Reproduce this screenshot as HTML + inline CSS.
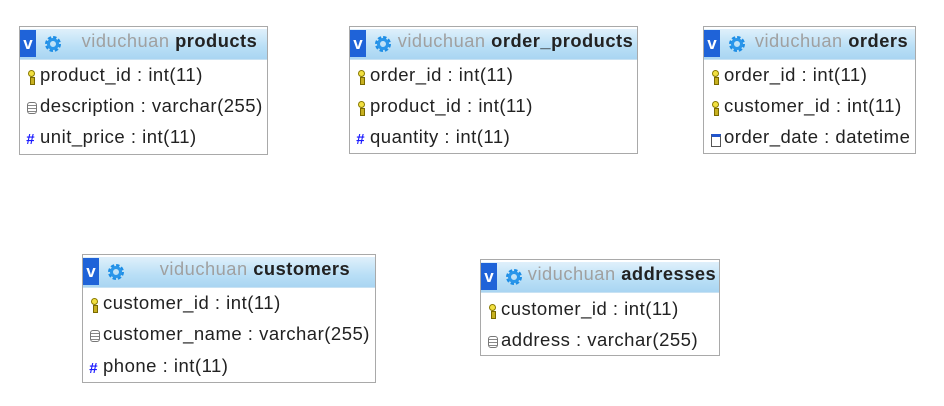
<!DOCTYPE html>
<html><head><meta charset="utf-8"><style>
body{margin:0;width:944px;height:406px;background:#fff;position:relative;overflow:hidden;font-family:"Liberation Sans",Arial,sans-serif;}
.t{position:absolute;border:1px solid #a9a9a9;background:#fff;box-sizing:border-box;}
.h{position:absolute;left:0;right:0;top:2px;height:30px;background:linear-gradient(#dff0fb,#b9dff6 60%,#a9d5f2);border-bottom:1px solid #c8e2f3;}
.v{position:absolute;left:0;top:3px;width:16px;height:27px;background:#1f63d8;color:#fff;font-weight:bold;font-size:17px;line-height:28px;text-align:center;}
.g{position:absolute;left:24px;top:8px;width:18px;height:18px;}
.ti{position:absolute;left:52px;right:0;top:3px;text-align:center;font-size:18.3px;letter-spacing:0.5px;white-space:nowrap;}
.ti .a{color:#a0a0a0}.ti b{color:#222}
.r{position:absolute;left:0;font-size:18.5px;letter-spacing:0.5px;color:#222;white-space:nowrap;line-height:20px;}
.r i{display:inline-block;width:12px;height:14px;vertical-align:-2px;position:relative;margin-left:6px;margin-right:2px;}
.k::before{content:"";position:absolute;left:2px;top:1px;width:5px;height:5px;border:1.5px solid #8a7a00;border-radius:50%;background:#f2e040;}
.k::after{content:"";position:absolute;left:4px;top:8px;width:3px;height:6px;background:#c7b020;border:1px solid #7a6a00;}
.d::before{content:"";position:absolute;left:1px;top:2px;width:8px;height:10px;border:1px solid #777;border-radius:3px;background:repeating-linear-gradient(#fff 0 2px,#888 2px 3px);}
.n::before{content:"#";position:absolute;left:0;top:-1px;color:#1a1aff;font-weight:bold;font-size:15px;}
.c::before{content:"";position:absolute;left:1px;top:3px;width:8px;height:9px;border:1px solid #555;border-top:3px solid #2255cc;background:#fff;}
</style></head><body>
<svg width="0" height="0" style="position:absolute"><defs><g id="gear"><circle cx="9" cy="9" r="6" fill="none" stroke="#1e8ee6" stroke-width="4" stroke-dasharray="3 1.7"/><circle cx="9" cy="9" r="4.5" fill="none" stroke="#2a96ea" stroke-width="3"/></g></defs></svg>

<div class="t" style="left:19px;top:26px;width:249px;height:129px">
<div class="h"></div><div class="v">v</div><svg class="g"><use href="#gear"/></svg>
<div class="ti"><span class="a">viduchuan</span> <b>products</b></div>
<div class="r" style="top:38px"><i class="k"></i>product_id : int(11)</div>
<div class="r" style="top:69px"><i class="d"></i>description : varchar(255)</div>
<div class="r" style="top:100px"><i class="n"></i>unit_price : int(11)</div>
</div>

<div class="t" style="left:349px;top:26px;width:289px;height:128px">
<div class="h"></div><div class="v">v</div><svg class="g"><use href="#gear"/></svg>
<div class="ti" style="left:44px"><span class="a">viduchuan</span> <b>order_products</b></div>
<div class="r" style="top:38px"><i class="k"></i>order_id : int(11)</div>
<div class="r" style="top:69px"><i class="k"></i>product_id : int(11)</div>
<div class="r" style="top:100px"><i class="n"></i>quantity : int(11)</div>
</div>

<div class="t" style="left:703px;top:26px;width:213px;height:128px">
<div class="h"></div><div class="v">v</div><svg class="g"><use href="#gear"/></svg>
<div class="ti" style="left:44px"><span class="a">viduchuan</span> <b>orders</b></div>
<div class="r" style="top:38px"><i class="k"></i>order_id : int(11)</div>
<div class="r" style="top:69px"><i class="k"></i>customer_id : int(11)</div>
<div class="r" style="top:100px"><i class="c"></i>order_date : datetime</div>
</div>

<div class="t" style="left:82px;top:254px;width:294px;height:129px">
<div class="h"></div><div class="v">v</div><svg class="g"><use href="#gear"/></svg>
<div class="ti"><span class="a">viduchuan</span> <b>customers</b></div>
<div class="r" style="top:38px"><i class="k"></i>customer_id : int(11)</div>
<div class="r" style="top:69px"><i class="d"></i>customer_name : varchar(255)</div>
<div class="r" style="top:101px"><i class="n"></i>phone : int(11)</div>
</div>

<div class="t" style="left:480px;top:259px;width:240px;height:97px">
<div class="h"></div><div class="v">v</div><svg class="g"><use href="#gear"/></svg>
<div class="ti" style="left:44px"><span class="a">viduchuan</span> <b>addresses</b></div>
<div class="r" style="top:39px"><i class="k"></i>customer_id : int(11)</div>
<div class="r" style="top:70px"><i class="d"></i>address : varchar(255)</div>
</div>
</body></html>
